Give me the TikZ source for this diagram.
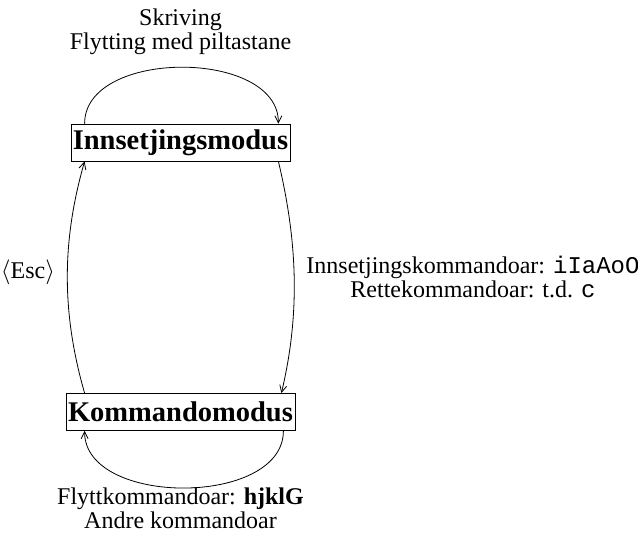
\documentclass[tikz,border=0pt]{standalone}
\usepackage{fontspec}
\setmainfont{Liberation Serif}
\setmonofont{Liberation Mono}
\usetikzlibrary{arrows.meta,calc}
\begin{document}
\begin{tikzpicture}[x=1pt,y=-1pt,
  modebox/.style={draw,line width=0.8pt,inner sep=0pt,minimum height=37pt,
    font=\fontsize{28.5}{30}\selectfont\bfseries},
  lbl/.style={align=center,font=\fontsize{24}{24}\selectfont},
  trans/.style={line width=0.8pt,-{Straight Barb[length=7pt,width=7pt]}}]
\useasboundingbox (0,0) rectangle (638,537);
% the two modes
\node[modebox,minimum width=219pt] (ins) at (180.5,142.5) {Innsetjingsmodus};
\node[modebox,minimum width=229pt] (kom) at (180.5,412) {Kommandomodus};
% end points of the transitions on the box borders
\coordinate (insTL) at ($(ins.north west)+(14,0)$);
\coordinate (insTR) at ($(ins.north east)+(-12,0)$);
\coordinate (insBL) at ($(ins.south west)+(14,0)$);
\coordinate (insBR) at ($(ins.south east)+(-12,0)$);
\coordinate (komTL) at ($(kom.north west)+(19,0)$);
\coordinate (komTR) at ($(kom.north east)+(-14,0)$);
\coordinate (komBL) at ($(kom.south west)+(19,0)$);
\coordinate (komBR) at ($(kom.south east)+(-12,0)$);
% transitions
\draw[trans] (insTL) .. controls ($(insTL)+(0,-75)$) and ($(insTR)+(0,-75)$) .. (insTR);
\draw[trans] (komBR) .. controls ($(komBR)+(0,76)$) and ($(komBL)+(0,76)$) .. (komBL);
\draw[trans] (komTL) .. controls ($(komTL)+(-23,-80)$) and ($(insBL)+(-23,80)$) .. (insBL);
\draw[trans] (insBR) .. controls ($(insBR)+(19,80)$) and ($(komTR)+(19,-80)$) .. (komTR);
% labels
\node[lbl] (top) at (180.5,32) {Skriving\\Flytting med piltastane};
\node[lbl] (bot) at (180.5,508) {Flyttkommandoar: \textbf{hjklG}\\Andre kommandoar};
\node[lbl] (esc) at (28,272) {$\langle$Esc$\rangle$};
\node[lbl] (cmd) at (473,277) {Innsetjingskommandoar: \texttt{iIaAoO}\\Rettekommandoar: t.d. \texttt{c}};
\end{tikzpicture}
\end{document}
